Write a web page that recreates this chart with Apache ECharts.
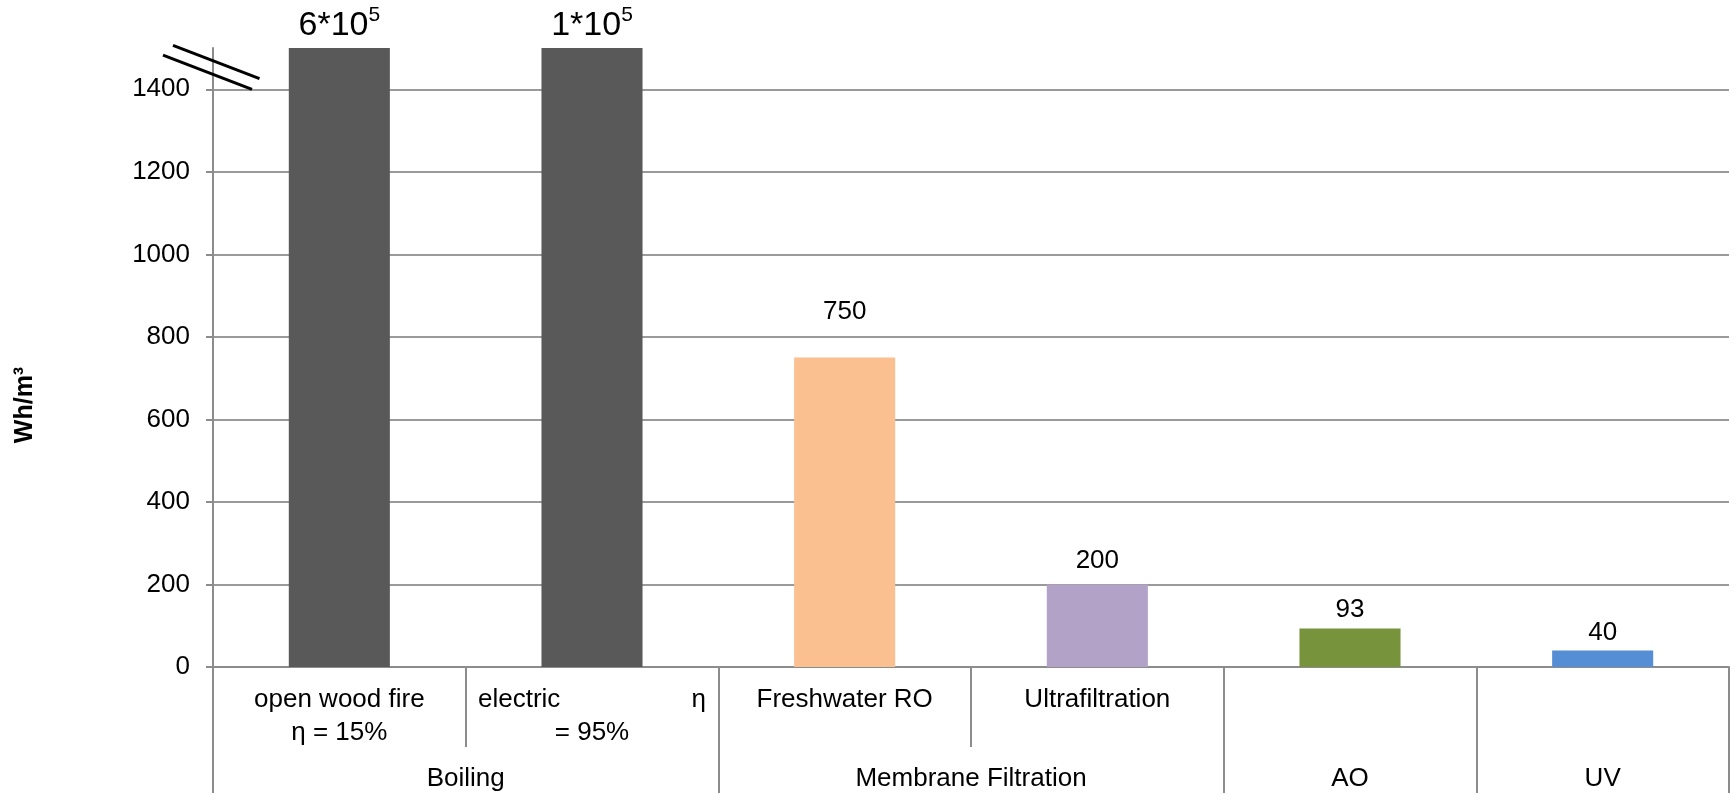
<!DOCTYPE html>
<html>
<head>
<meta charset="utf-8">
<script src="https://cdn.jsdelivr.net/npm/echarts@6/dist/echarts.min.js"></script>
<style>
  html, body { margin: 0; padding: 0; background: #ffffff; }
  #chart { width: 1735px; height: 793px; }
</style>
</head>
<body>
<div id="chart"></div>
<script>
// Energy demand of drinking-water treatment methods (Wh per m³)
const methods      = ['open wood fire', 'electric', 'Freshwater RO', 'Ultrafiltration', '', ''];
const efficiencies = ['η = 15%', 'η = 95%', '', '', '', ''];
const groups       = ['Boiling', 'Boiling', 'Membrane Filtration', 'Membrane Filtration', 'AO', 'UV'];
const energy       = [600000, 100000, 750, 200, 93, 40];
const yTicks       = [0, 200, 400, 600, 800, 1000, 1200, 1400];
const axisTop      = 1500;   // axis is broken above this value

const barColors = ['#595959', '#595959', '#FAC090', '#B3A2C7', '#77933C', '#558ED5'];
const labelDistance = [5, 5, 33, 11, 6, 5];

const FONT = '"Liberation Sans", Arial, Helvetica, sans-serif';
const GRID = { left: 213, right: 6, top: 48, bottom: 126 };
const LINE_GREY = '#8c8c8c';

// contiguous spans of the outer category level
const spans = [];
groups.forEach((g, i) => {
  const last = spans[spans.length - 1];
  if (last && last.name === g) last.end = i + 1;
  else spans.push({ name: g, start: i, end: i + 1 });
});
const groupBounds = [0].concat(spans.map(s => s.end));
const groupCenters = spans.map(s => (s.start + s.end) / 2);

// unique keys for the inner category level
const catKeys = methods.map((m, i) => m || groups[i]);

function innerLabel(value, index) {
  const m = methods[index], e = efficiencies[index];
  if (!m) return '';
  if (!e) return m;
  if (index === 1) {
    const parts = e.split(' ');
    return '{l|' + m + '}{r|' + parts[0] + '}\n{c|' + parts.slice(1).join(' ') + '}';
  }
  return m + '\n' + e;
}

function valueLabel(p) {
  const v = p.value;
  if (v >= 10000) {
    const exp = Math.floor(Math.log10(v));
    const mant = Math.round(v / Math.pow(10, exp));
    return '{m|' + mant + '*10}{e|' + exp + '}';
  }
  return String(v);
}

const chart = echarts.init(document.getElementById('chart'), null, { renderer: 'canvas' });

const option = {
  animation: false,
  backgroundColor: '#ffffff',
  textStyle: { fontFamily: FONT, color: '#000' },
  grid: Object.assign({ containLabel: false, outerBoundsMode: 'none' }, GRID),
  xAxis: [
    {
      type: 'category',
      data: catKeys,
      position: 'bottom',
      axisLine: { show: true, onZero: false, lineStyle: { color: LINE_GREY, width: 2 } },
      axisTick: { show: true, interval: 0, length: 80, lineStyle: { color: LINE_GREY, width: 2 } },
      axisLabel: {
        interval: 0,
        margin: 16,
        fontSize: 26,
        lineHeight: 33,
        color: '#000',
        fontFamily: FONT,
        formatter: innerLabel,
        rich: {
          l: { width: 200, align: 'left', fontSize: 26, lineHeight: 33, fontFamily: FONT, color: '#000' },
          r: { width: 28, align: 'right', fontSize: 26, lineHeight: 33, fontFamily: FONT, color: '#000' },
          c: { fontSize: 26, lineHeight: 33, fontFamily: FONT, color: '#000' }
        }
      },
      splitLine: { show: false }
    },
    {
      type: 'value',
      min: 0,
      max: methods.length,
      position: 'bottom',
      axisLine: { show: false, onZero: false },
      axisTick: { show: true, customValues: groupBounds, length: 126, lineStyle: { color: LINE_GREY, width: 2 } },
      axisLabel: {
        customValues: groupCenters,
        margin: 95,
        fontSize: 26,
        lineHeight: 33,
        color: '#000',
        fontFamily: FONT,
        formatter: v => {
          const s = spans.find(s => Math.abs((s.start + s.end) / 2 - v) < 1e-6);
          return s ? s.name : '';
        }
      },
      splitLine: { show: false }
    }
  ],
  yAxis: {
    type: 'value',
    min: 0,
    max: axisTop,
    interval: 200,
    axisLine: { show: true, lineStyle: { color: LINE_GREY, width: 2 } },
    axisTick: { show: true, length: 7, customValues: yTicks, lineStyle: { color: LINE_GREY, width: 2 } },
    axisLabel: { customValues: yTicks, margin: 23, fontSize: 26, color: '#000', fontFamily: FONT,
                 formatter: v => String(v) },
    splitLine: { show: true, lineStyle: { color: '#9a9a9a', width: 2 } }
  },
  series: [{
    type: 'bar',
    xAxisIndex: 0,
    yAxisIndex: 0,
    clip: true,
    barCategoryGap: '60%',
    data: energy.map((v, i) => ({
      value: v,
      itemStyle: { color: barColors[i] },
      label: { distance: labelDistance[i] }
    })),
    label: {
      show: true,
      position: 'top',
      fontSize: 26,
      lineHeight: 26,
      color: '#000',
      fontFamily: FONT,
      formatter: valueLabel,
      rich: {
        m: { fontSize: 34, lineHeight: 38, verticalAlign: 'bottom', fontFamily: FONT, color: '#000' },
        e: { fontSize: 21, lineHeight: 28, verticalAlign: 'top', fontFamily: FONT, color: '#000' }
      }
    }
  }]
};

chart.setOption(option);

// axis-break marks across the top of the value axis, plus the axis title
const axisX = GRID.left;
const yA = chart.convertToPixel({ yAxisIndex: 0 }, 1469);
const yB = chart.convertToPixel({ yAxisIndex: 0 }, 1436);
const slope = 0.384;
const breakStyle = { stroke: '#000', lineWidth: 3 };

chart.setOption({
  graphic: [
    { type: 'line', silent: true, z: 100,
      shape: { x1: axisX - 40, y1: yA - 40 * slope, x2: axisX + 46.5, y2: yA + 46.5 * slope },
      style: breakStyle },
    { type: 'line', silent: true, z: 100,
      shape: { x1: axisX - 50, y1: yB - 50 * slope, x2: axisX + 39, y2: yB + 39 * slope },
      style: breakStyle },
    { type: 'text', silent: true, x: 25, y: 405, rotation: Math.PI / 2,
      style: { text: 'Wh/m³', fontSize: 25, fontWeight: 'bold', fontFamily: FONT, fill: '#000',
               align: 'center', verticalAlign: 'middle' } }
  ]
});
</script>
</body>
</html>
